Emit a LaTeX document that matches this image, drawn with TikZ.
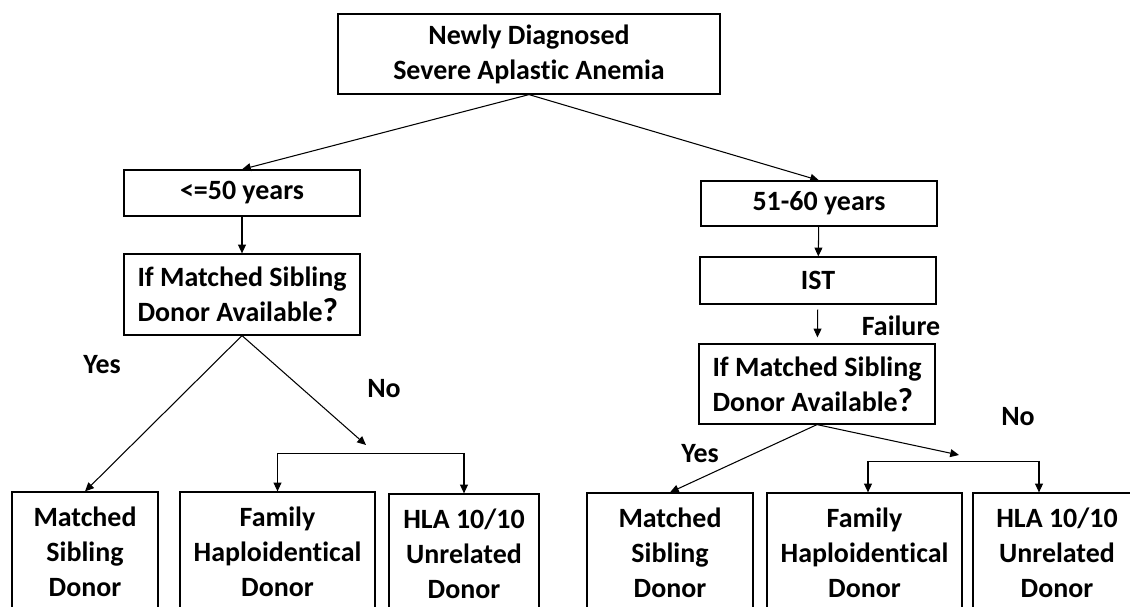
\documentclass[tikz,border=0pt]{standalone}
\usepackage{fontspec}
\setmainfont{Carlito}[Ligatures=NoCommon]
\usetikzlibrary{arrows.meta}
\tikzset{
  box/.style={draw, line width=0.7pt, inner sep=0pt, align=center,
    font=\bfseries\fontsize{15.9}{20}\selectfont},
  qbox/.style={box, align=left},
  lbl/.style={inner sep=0pt, font=\bfseries\fontsize{15.9}{20}\selectfont},
  arr/.style={-{Triangle[length=5pt,width=4.5pt]}, line width=0.6pt},
}
\newcommand{\qmark}{{\fontsize{19}{20}\selectfont ?}}

\begin{document}
\begin{tikzpicture}[x=0.02cm, y=-0.02cm]
  \useasboundingbox (0,0) rectangle (1130,607);
  \clip (0,0) rectangle (1130,607);

  % diagnosis
  \node[box, minimum width=7.64cm, minimum height=1.6cm] (diag) at (529,54) {Newly Diagnosed\\Severe Aplastic Anemia};

  % age groups
  \node[box, minimum width=4.72cm, minimum height=0.92cm] (young) at (242,193) {<=50 years};
  \node[box, minimum width=4.72cm, minimum height=0.9cm] (older) at (819,203.5) {51-60 years};

  % left branch
  \node[qbox, minimum width=4.72cm, minimum height=1.62cm] (sibA) at (242,294.5) {If Matched Sibling\\Donor Available\qmark};

  % right branch
  \node[box, minimum width=4.72cm, minimum height=0.94cm] (ist) at (818,280.5) {IST};
  \node[qbox, minimum width=4.72cm, minimum height=1.6cm] (sibB) at (817,384) {If Matched Sibling\\Donor Available\qmark};

  % donors, left
  \node[box, minimum width=2.92cm, minimum height=2.4cm] (msdA) at (85,552) {Matched\\Sibling\\Donor};
  \node[box, minimum width=3.9cm, minimum height=2.4cm] (haploA) at (277.5,552) {Family\\Haploidentical\\Donor};
  \node[box, minimum width=3.0cm, minimum height=2.4cm] (mudA) at (464,554) {HLA 10/10\\Unrelated\\Donor};

  % donors, right
  \node[box, minimum width=3.32cm, minimum height=2.4cm] (msdB) at (670,553) {Matched\\Sibling\\Donor};
  \node[box, minimum width=3.9cm, minimum height=2.4cm] (haploB) at (864.5,553) {Family\\Haploidentical\\Donor};
  \node[box, minimum width=3.36cm, minimum height=2.4cm] (mudB) at (1057,553) {HLA 10/10\\Unrelated\\Donor};

  % labels
  \node[lbl] (yesA) at (102,365) {Yes};
  \node[lbl] (noA) at (384,389) {No};
  \node[lbl] (fail) at (901,326) {Failure};
  \node[lbl] (yesB) at (700,454) {Yes};
  \node[lbl] (noB) at (1018,417) {No};

  % junctions
  \coordinate (jA) at (366,445);
  \coordinate (barA) at (0,453);
  \coordinate (jB) at (959,455);
  \coordinate (barBl) at (868,461);
  \coordinate (barBr) at (1039,461);

  % arrows
  \draw[arr] (diag.south) -- (young.north);
  \draw[arr] (diag.south) -- (older.north);
  \draw[arr] (young) -- (sibA);
  \draw[arr] (older) -- (ist);
  \draw[arr, shorten <=0.1cm, shorten >=0.12cm] (ist) -- (sibB);

  \draw[arr] (sibA.south) -- (msdA.north);
  \draw[arr] (sibA.south) -- (jA);
  \draw (haploA.north |- barA) -- (mudA.north |- barA);
  \draw[arr] (haploA.north |- barA) -- (haploA.north);
  \draw[arr] (mudA.north |- barA) -- (mudA.north);

  \draw[arr] (sibB.south) -- (msdB.north);
  \draw[arr] (sibB.south) -- (jB);
  \draw (barBl) -- (barBr);
  \draw[arr] (barBl) -- (barBl |- haploB.north);
  \draw[arr] (barBr) -- (barBr |- mudB.north);
\end{tikzpicture}
\end{document}
